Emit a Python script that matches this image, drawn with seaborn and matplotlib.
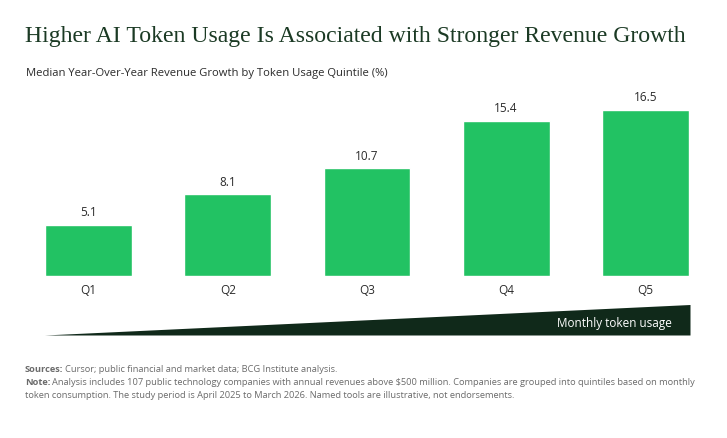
import numpy as np
import matplotlib
matplotlib.use("Agg")
import matplotlib.pyplot as plt
from matplotlib.patches import Polygon
import seaborn as sns

quintiles = ["Q1", "Q2", "Q3", "Q4", "Q5"]
growth = [5.1, 8.1, 10.7, 15.4, 16.5]

title = "Higher AI Token Usage Is Associated with Stronger Revenue Growth"
subtitle = "Median Year-Over-Year Revenue Growth by Token Usage Quintile (%)"
wedge_label = "Monthly token usage"
sources = "Cursor; public financial and market data; BCG Institute analysis."
note_1 = ("Analysis includes 107 public technology companies with annual revenues above $500 million. "
          "Companies are grouped into quintiles based on monthly")
note_2 = ("token consumption. The study period is April 2025 to March 2026. "
          "Named tools are illustrative, not endorsements.")

GREEN = "#22c263"
DARK = "#1b3a24"
WEDGE = "#10291a"
TEXT = "#2b2b2b"
GREY = "#6b6b6b"

sns.set_theme(style="white")
plt.rcParams["font.family"] = ["Open Sans", "DejaVu Sans"]

W, H = 727, 438
fig = plt.figure(figsize=(W / 100, H / 100), dpi=100)
fig.patch.set_facecolor("white")

def fx(px):
    return px / W

def fy(py):
    return 1 - py / H

ax = fig.add_axes([fx(45.3), fy(276), fx(688.7 - 45.3), fy(109.7) - fy(276)])
sns.barplot(x=quintiles, y=growth, color=GREEN, saturation=1, width=0.625, ax=ax)
ax.set_xlim(-0.3125, 4.3125)
ax.set_ylim(0, 16.5)
sns.despine(ax=ax, left=True, bottom=True)
ax.set_yticks([])
ax.set_xlabel("")
ax.set_ylabel("")
ax.tick_params(axis="x", length=0, pad=6, labelsize=8.5, labelcolor=TEXT)
for i, v in enumerate(growth):
    ax.annotate(f"{v:.1f}", (i, v), xytext=(0, 4), textcoords="offset points",
                ha="center", va="bottom", fontsize=8.5, color=TEXT, annotation_clip=False)

# usage wedge below the bars
wedge = Polygon([(fx(45), fy(335.5)), (fx(690.5), fy(305)), (fx(690.5), fy(335.5))],
                closed=True, transform=fig.transFigure, facecolor=WEDGE, edgecolor="none")
fig.add_artist(wedge)
fig.text(fx(672), fy(324), wedge_label, ha="right", va="center", fontsize=8.5, color="white")

fig.text(fx(25), fy(42.3), title, ha="left", va="baseline", fontsize=17.1,
         family=["Liberation Serif", "DejaVu Serif"], color=DARK)
fig.text(fx(26), fy(76), subtitle, ha="left", va="baseline", fontsize=8.15, color=TEXT)

# footnotes with bold lead-ins
renderer = fig.canvas.get_renderer()
FOOT = 6.7

def lead_line(y, lead, rest):
    t = fig.text(fx(25), fy(y), lead, ha="left", va="baseline", fontsize=FOOT,
                 fontweight="bold", color=GREY)
    bb = t.get_window_extent(renderer=renderer)
    fig.text(fx(bb.x1 + 2), fy(y), rest, ha="left", va="baseline", fontsize=FOOT, color=GREY)

lead_line(372, "Sources:", sources)
lead_line(385, "Note:", note_1)
fig.text(fx(25), fy(398), note_2, ha="left", va="baseline", fontsize=FOOT, color=GREY)

fig.savefig("out.png", dpi=100, facecolor="white")
